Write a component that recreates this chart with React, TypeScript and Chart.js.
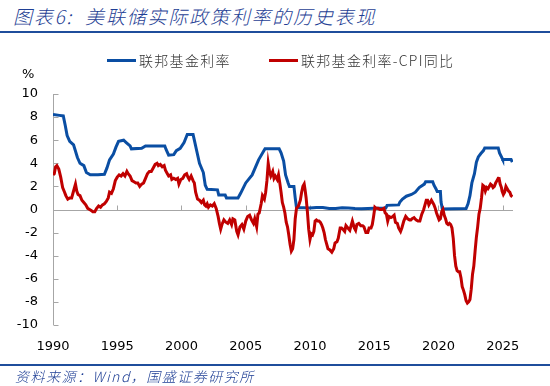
import { useEffect, useRef } from "react";
import { Chart, registerables } from "chart.js";
Chart.register(...registerables);

// 联邦基金利率 (decimal year, %)
const fedDates = [
  1990.0, 1990.5, 1990.8, 1990.95, 1991.1, 1991.3, 1991.6, 1991.9, 1992.1, 1992.4, 1992.6, 1992.9,
  1993.5, 1994.0, 1994.2, 1994.4, 1994.7, 1994.9, 1995.1, 1995.5, 1995.7, 1996.0, 1996.1, 1996.9,
  1997.2, 1998.7, 1998.8, 1999.0, 1999.4, 1999.6, 1999.9, 2000.2, 2000.45, 2000.9, 2001.0, 2001.2,
  2001.4, 2001.7, 2001.85, 2002.0, 2002.8, 2002.9, 2003.4, 2003.5, 2004.4, 2004.6, 2005.0, 2005.5,
  2006.0, 2006.5, 2007.6, 2007.75, 2007.95, 2008.1, 2008.3, 2008.4, 2008.75, 2008.85, 2008.95, 2009.5,
  2010.0, 2010.5, 2011.0, 2011.5, 2012.0, 2012.5, 2013.0, 2013.5, 2014.0, 2014.5, 2015.0, 2015.9,
  2016.0, 2016.9, 2017.0, 2017.2, 2017.5, 2017.9, 2018.2, 2018.5, 2018.9, 2019.0, 2019.55, 2019.65,
  2019.8, 2019.9, 2020.15, 2020.2, 2020.3, 2022.15, 2022.3, 2022.45, 2022.6, 2022.8, 2022.95, 2023.1,
  2023.3, 2023.5, 2023.6, 2024.65, 2024.75, 2024.95, 2025.0, 2025.65, 2025.75,
];
const fedRate = [
  8.23, 8.15, 8.1, 7.3, 6.4, 5.9, 5.6, 4.5, 4.0, 3.8, 3.2, 3.0,
  3.0, 3.05, 3.6, 4.3, 4.8, 5.4, 5.9, 6.0, 5.8, 5.5, 5.25, 5.3,
  5.5, 5.5, 5.2, 4.7, 4.75, 5.1, 5.3, 5.8, 6.5, 6.5, 6.0, 5.0,
  4.0, 3.2, 2.1, 1.75, 1.7, 1.25, 1.25, 1.0, 1.0, 1.4, 2.3, 3.0,
  4.3, 5.25, 5.25, 4.9, 4.2, 3.0, 2.3, 2.0, 2.0, 1.0, 0.16, 0.16,
  0.12, 0.18, 0.17, 0.09, 0.08, 0.16, 0.14, 0.09, 0.07, 0.09, 0.11, 0.12,
  0.36, 0.4, 0.65, 0.9, 1.15, 1.3, 1.5, 1.9, 2.2, 2.4, 2.4, 2.1,
  1.8, 1.55, 1.55, 0.65, 0.05, 0.08, 0.5, 1.2, 2.3, 3.1, 4.1, 4.55,
  4.85, 5.1, 5.33, 5.33, 4.9, 4.45, 4.33, 4.33, 4.1,
];

// 联邦基金利率-CPI同比 (decimal year, %)
const realDates = [
  1990.0, 1990.1, 1990.2, 1990.3, 1990.45, 1990.6, 1990.75, 1990.9, 1991.0, 1991.15, 1991.3, 1991.45,
  1991.6, 1991.75, 1991.85, 1991.95, 1992.1, 1992.25, 1992.4, 1992.55, 1992.7, 1992.85, 1993.0, 1993.1,
  1993.25, 1993.4, 1993.55, 1993.7, 1993.85, 1994.0, 1994.15, 1994.3, 1994.4, 1994.55, 1994.7, 1994.85,
  1995.0, 1995.15, 1995.3, 1995.45, 1995.6, 1995.75, 1995.85, 1996.0, 1996.15, 1996.3, 1996.45, 1996.6,
  1996.75, 1996.9, 1997.05, 1997.2, 1997.35, 1997.5, 1997.65, 1997.8, 1997.95, 1998.1, 1998.2, 1998.35,
  1998.5, 1998.65, 1998.75, 1998.9, 1999.0, 1999.15, 1999.25, 1999.4, 1999.55, 1999.7, 1999.8, 1999.95,
  2000.1, 2000.25, 2000.4, 2000.5, 2000.6, 2000.75, 2000.9, 2001.0, 2001.1, 2001.25, 2001.4, 2001.55,
  2001.7, 2001.8, 2001.9, 2002.0, 2002.1, 2002.25, 2002.4, 2002.55, 2002.7, 2002.85, 2002.95, 2003.05,
  2003.15, 2003.3, 2003.45, 2003.6, 2003.75, 2003.9, 2004.0, 2004.15, 2004.3, 2004.4, 2004.55, 2004.7,
  2004.85, 2005.0, 2005.15, 2005.3, 2005.45, 2005.6, 2005.7, 2005.85, 2005.95, 2006.05, 2006.2, 2006.3,
  2006.45, 2006.55, 2006.65, 2006.75, 2006.85, 2006.95, 2007.1, 2007.2, 2007.3, 2007.45, 2007.55, 2007.65,
  2007.75, 2007.85, 2007.95, 2008.05, 2008.15, 2008.25, 2008.35, 2008.45, 2008.55, 2008.65, 2008.75, 2008.85,
  2008.95, 2009.1, 2009.25, 2009.35, 2009.45, 2009.55, 2009.62, 2009.7, 2009.8, 2009.9, 2010.0, 2010.1,
  2010.2, 2010.3, 2010.4, 2010.5, 2010.6, 2010.7, 2010.8, 2010.9, 2011.0, 2011.1, 2011.2, 2011.3,
  2011.4, 2011.55, 2011.7, 2011.85, 2011.95, 2012.1, 2012.2, 2012.35, 2012.45, 2012.55, 2012.7, 2012.8,
  2012.95, 2013.1, 2013.2, 2013.3, 2013.45, 2013.55, 2013.65, 2013.8, 2013.95, 2014.1, 2014.2, 2014.35,
  2014.5, 2014.6, 2014.75, 2014.85, 2014.95, 2015.05, 2015.15, 2015.3, 2015.45, 2015.6, 2015.75, 2015.85,
  2015.95, 2016.05, 2016.15, 2016.3, 2016.45, 2016.55, 2016.65, 2016.8, 2016.9, 2017.05, 2017.15, 2017.3,
  2017.45, 2017.6, 2017.75, 2017.85, 2017.95, 2018.1, 2018.25, 2018.4, 2018.55, 2018.7, 2018.85, 2018.95,
  2019.05, 2019.15, 2019.25, 2019.35, 2019.45, 2019.55, 2019.65, 2019.75, 2019.85, 2019.95, 2020.05, 2020.15,
  2020.25, 2020.35, 2020.45, 2020.55, 2020.65, 2020.75, 2020.85, 2020.95, 2021.05, 2021.15, 2021.25, 2021.35,
  2021.45, 2021.55, 2021.65, 2021.75, 2021.85, 2021.95, 2022.05, 2022.15, 2022.25, 2022.35, 2022.45, 2022.55,
  2022.65, 2022.75, 2022.85, 2022.95, 2023.05, 2023.15, 2023.25, 2023.35, 2023.45, 2023.55, 2023.65, 2023.75,
  2023.85, 2023.95, 2024.05, 2024.15, 2024.25, 2024.35, 2024.45, 2024.55, 2024.65, 2024.7, 2024.8, 2024.9,
  2024.95, 2025.05, 2025.15, 2025.25, 2025.35, 2025.45, 2025.55, 2025.65, 2025.75,
];
const realRate = [
  3.0, 3.1, 3.7, 3.8, 3.5, 2.8, 1.9, 1.5, 1.2, 0.9, 1.0, 1.0,
  1.6, 2.2, 1.6, 1.3, 1.2, 0.8, 0.6, 0.4, 0.1, 0.0, -0.1, -0.2,
  -0.2, 0.1, 0.3, 0.2, 0.4, 0.5, 0.7, 1.0, 1.5, 1.4, 1.8, 2.5,
  2.8, 3.0, 2.9, 3.1, 2.9, 3.3, 3.1, 2.9, 2.5, 2.4, 2.3, 2.3,
  2.0, 2.2, 2.3, 2.7, 3.1, 3.3, 3.3, 3.6, 3.9, 4.0, 3.8, 3.9,
  3.7, 3.8, 3.4, 3.1, 2.9, 3.0, 2.6, 2.7, 2.6, 2.7, 2.2, 2.6,
  2.7, 3.0, 3.1, 2.8, 2.6, 2.9, 2.5, 2.3, 1.5, 0.9, 0.8, 0.6,
  0.8, 0.4, 0.3, 0.5, 0.2, 0.4, 0.3, 0.5, 0.1, -0.6, -1.2, -1.7,
  -1.3, -0.9, -1.1, -1.2, -0.9, -1.3, -0.8, -0.9, -1.9, -2.2, -1.5, -1.3,
  -1.7, -1.0, -0.6, -0.5, -0.9, -1.2, -0.8, -1.5, -0.4, -0.3, 0.5, 1.2,
  0.9, 1.5, 2.5, 4.0, 3.3, 2.9, 3.3, 2.7, 2.9, 2.6, 3.0, 2.3,
  1.5, 0.6, 0.2, -0.3, -1.1, -1.5, -2.2, -3.0, -3.6, -3.4, -2.6, -0.8,
  0.1, 0.3, 0.8, 1.5, 2.0, 2.2, 1.7, 1.0, -0.2, -1.7, -2.6, -2.1,
  -2.2, -1.9, -1.0, -0.9, -1.0, -1.0, -1.1, -1.3, -1.6, -2.0, -2.6, -3.0,
  -3.4, -3.5, -3.7, -3.4, -2.9, -2.8, -2.5, -1.6, -1.6, -1.7, -1.9, -1.4,
  -1.6, -1.8, -1.4, -1.0, -1.6, -1.8, -1.3, -1.2, -1.4, -1.4, -1.5, -2.0,
  -2.0, -1.6, -1.6, -1.3, -0.6, 0.2, 0.1, 0.1, 0.0, 0.0, 0.1, -0.3,
  -0.4, -1.0, -0.6, -0.7, -0.6, -0.5, -1.1, -1.2, -1.6, -1.9, -1.6, -1.0,
  -0.6, -0.8, -0.9, -0.9, -0.8, -0.7, -0.9, -1.0, -1.0, -0.4, 0.0, 0.4,
  0.8, 0.8, 0.4, 0.6, 0.8, 0.6, 0.4, 0.1, -0.3, -0.6, -0.9, -0.8,
  -0.2, 0.0, -0.5, -0.8, -1.2, -1.3, -1.2, -1.3, -1.6, -2.5, -4.0, -4.9,
  -5.3, -5.4, -5.4, -5.9, -6.7, -7.0, -7.4, -7.9, -8.1, -8.0, -7.8, -6.9,
  -5.6, -4.9, -3.6, -2.4, -1.5, -0.4, 0.1, 1.0, 2.1, 2.0, 1.6, 1.9,
  1.8, 2.0, 2.2, 2.1, 1.9, 2.0, 2.3, 2.5, 2.7, 2.8, 2.2, 1.9,
  1.6, 1.3, 1.5, 2.0, 1.8, 1.6, 1.5, 1.2, 1.1,
];

const xTicks = [1990, 1995, 2000, 2005, 2010, 2015, 2020, 2025];
const yTicks = [-10, -8, -6, -4, -2, 0, 2, 4, 6, 8, 10];
const legendLabels = ["联邦基金利率", "联邦基金利率-CPI同比"];

const BLUE = "#0a4ea3";
const RED = "#c00000";
const TITLE_BLUE = "#1f3f95";

const axisPlugin = {
  id: "axisLines",
  beforeDatasetsDraw(chart: any) {
    const { ctx, chartArea, scales } = chart;
    const x = scales.x;
    const y = scales.y;
    ctx.save();
    ctx.strokeStyle = "#a6a6a6";
    ctx.lineWidth = 1;
    ctx.beginPath();
    const ax = Math.round(chartArea.left) + 0.5;
    ctx.moveTo(ax, y.getPixelForValue(yTicks[yTicks.length - 1]));
    ctx.lineTo(ax, y.getPixelForValue(yTicks[0]));
    yTicks.forEach((v) => {
      const py = Math.round(y.getPixelForValue(v)) + 0.5;
      ctx.moveTo(ax, py);
      ctx.lineTo(ax + 5, py);
    });
    const zy = Math.round(y.getPixelForValue(0)) + 0.5;
    ctx.moveTo(ax, zy);
    ctx.lineTo(chartArea.right, zy);
    xTicks.forEach((v, i) => {
      if (i === 0) return;
      const px = Math.round(x.getPixelForValue(v)) + 0.5;
      ctx.moveTo(px, zy);
      ctx.lineTo(px, zy - 5);
    });
    ctx.stroke();
    ctx.restore();
  },
};

export default function App() {
  const ref = useRef<HTMLCanvasElement | null>(null);

  useEffect(() => {
    if (!ref.current) return;
    const chart = new Chart(ref.current, {
      type: "line",
      data: {
        datasets: [
          {
            label: legendLabels[1],
            data: realDates.map((d, i) => ({ x: d, y: realRate[i] })),
            borderColor: RED,
            borderWidth: 3,
            pointRadius: 0,
            tension: 0,
          },
          {
            label: legendLabels[0],
            data: fedDates.map((d, i) => ({ x: d, y: fedRate[i] })),
            borderColor: BLUE,
            borderWidth: 3,
            pointRadius: 0,
            tension: 0,
          },
        ],
      },
      options: {
        responsive: false,
        animation: false,
        devicePixelRatio: 1,
        layout: { padding: { top: 94, right: 37, bottom: 31, left: 0 } },
        plugins: { legend: { display: false }, tooltip: { enabled: false } },
        scales: {
          x: {
            type: "linear",
            min: 1990,
            max: 2025.8,
            grid: { display: false, drawTicks: false },
            border: { display: false },
            ticks: {
              autoSkip: false,
              maxRotation: 0,
              padding: 14,
              color: "#000",
              font: { family: "DejaVu Sans", size: 13 },
              callback: (v: any) => String(v),
            },
            afterBuildTicks: (scale: any) => {
              scale.ticks = xTicks.map((value) => ({ value }));
            },
            afterFit: (scale: any) => {
              scale.height = 30;
            },
          },
          y: {
            min: -10,
            max: 10,
            grid: { display: false, drawTicks: false },
            border: { display: false },
            ticks: {
              stepSize: 2,
              padding: 15,
              color: "#000",
              font: { family: "DejaVu Sans", size: 13 },
            },
            afterBuildTicks: (scale: any) => {
              scale.ticks = yTicks.map((value) => ({ value }));
            },
            afterFit: (scale: any) => {
              scale.width = 53;
            },
          },
        },
      },
      plugins: [axisPlugin],
    });
    return () => chart.destroy();
  }, []);

  const legendItem = (color: string, text: string, left: number) => (
    <div style={{ position: "absolute", left, top: 51, display: "flex", alignItems: "center", height: 18 }}>
      <div style={{ width: 29, height: 3, background: color, marginRight: 3 }} />
      <span
        style={{
          fontFamily: "'Noto Sans CJK SC', sans-serif",
          fontSize: 14,
          fontWeight: 300,
          letterSpacing: 1.3,
          color: "#333",
        }}
      >
        {text}
      </span>
    </div>
  );

  return (
    <div style={{ position: "fixed", left: 0, top: 0, width: 550, height: 386, background: "#fff", overflow: "hidden" }}>
      <div
        style={{
          position: "absolute",
          left: 13,
          top: 2,
          fontFamily: "'Noto Sans CJK SC', sans-serif",
          fontStyle: "italic",
          fontWeight: 300,
          fontSize: 19,
          letterSpacing: 1.8,
          color: TITLE_BLUE,
          whiteSpace: "pre",
        }}
      >
        图表6:  美联储实际政策利率的历史表现
      </div>
      <div style={{ position: "absolute", left: 0, top: 31, width: 550, height: 2, background: "#1f4e9c" }} />
      <canvas ref={ref} width={550} height={386} style={{ position: "absolute", left: 0, top: 0 }} />
      {legendItem(BLUE, legendLabels[0], 107)}
      {legendItem(RED, legendLabels[1], 269)}
      <div style={{ position: "absolute", left: 22, top: 66, fontFamily: "'DejaVu Sans', sans-serif", fontSize: 13, color: "#000" }}>
        %
      </div>
      <div style={{ position: "absolute", left: 0, top: 364, width: 550, height: 2, background: "#1f4e9c" }} />
      <div
        style={{
          position: "absolute",
          left: 15,
          top: 366,
          fontFamily: "'Noto Sans CJK SC', sans-serif",
          fontStyle: "italic",
          fontWeight: 300,
          fontSize: 14,
          letterSpacing: 1.5,
          color: TITLE_BLUE,
          whiteSpace: "pre",
        }}
      >
        资料来源：Wind，国盛证券研究所
      </div>
    </div>
  );
}
